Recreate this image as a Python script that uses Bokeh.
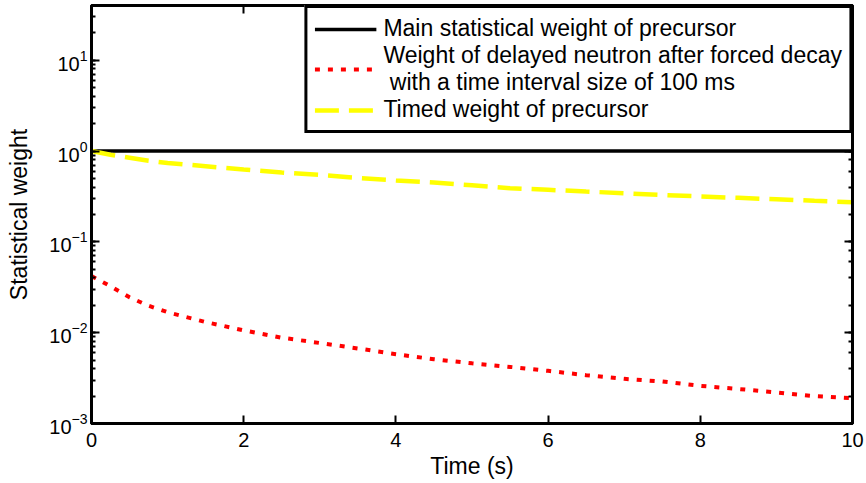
from bokeh.plotting import figure
from bokeh.models import Legend, LegendItem, LinearAxis, LogAxis, Range1d
from bokeh.embed import file_html
from bokeh.resources import INLINE

# ---- data ----
time = [0, 0.25, 0.5, 0.75, 1, 1.5, 2, 2.5, 3, 3.5, 4, 4.5, 5, 5.5, 6, 6.5,
        7, 7.5, 8, 8.5, 9, 9.5, 10]
main_weight = [1.0, 1.0, 1.0, 1.0, 1.0, 1.0, 1.0, 1.0, 1.0, 1.0, 1.0, 1.0,
               1.0, 1.0, 1.0, 1.0, 1.0, 1.0, 1.0, 1.0, 1.0, 1.0, 1.0]
delayed_weight = [0.042, 0.0325, 0.0245, 0.0198, 0.0168, 0.0131, 0.0106,
                  0.0088, 0.0077, 0.0067, 0.0058, 0.0051, 0.0046, 0.0042,
                  0.0038, 0.0034, 0.0031, 0.0029, 0.0026, 0.0024, 0.0022,
                  0.0020, 0.0019]
timed_weight = [1.0, 0.91, 0.845, 0.78, 0.74, 0.68, 0.625, 0.58, 0.545,
                0.505, 0.475, 0.45, 0.42, 0.39, 0.374, 0.358, 0.343, 0.328,
                0.316, 0.305, 0.294, 0.283, 0.273]

labels = ["Main statistical weight of precursor",
          "Weight of delayed neutron after forced decay\n with a time interval size of 100 ms",
          "Timed weight of precursor"]
x_label = "Time (s)"
y_label = "Statistical weight"

FONT = "Liberation Sans"

p = figure(width=866, height=483, y_axis_type="log",
           x_range=Range1d(0, 10), y_range=Range1d(1e-3, 40),
           output_backend="svg", toolbar_location=None,
           min_border_left=91, min_border_right=14,
           min_border_top=5, min_border_bottom=60)

p.grid.visible = False
p.outline_line_color = "black"
p.outline_line_alpha = 1
p.outline_line_width = 3
p.background_fill_color = "white"
p.border_fill_color = "white"

p.xaxis.axis_label = x_label
p.yaxis.axis_label = y_label
for ax in p.xaxis + p.yaxis:
    ax.axis_line_width = 3
    ax.major_tick_in = 8
    ax.major_tick_out = 0
    ax.minor_tick_in = 4
    ax.minor_tick_out = 0
    ax.major_tick_line_width = 2
    ax.minor_tick_line_width = 2
    ax.major_label_text_font = FONT
    ax.major_label_text_font_size = "20px"
    ax.major_label_text_color = "black"
    ax.axis_label_text_font = FONT
    ax.axis_label_text_font_size = "23px"
    ax.axis_label_text_font_style = "normal"
    ax.axis_label_text_color = "black"
p.xaxis.minor_tick_line_color = None
p.xaxis.major_label_standoff = 9
p.xaxis.axis_label_standoff = 3
p.yaxis.major_label_standoff = 4
p.yaxis.axis_label_standoff = 14

# box-style axes on top and right (ticks only)
top_ax = LinearAxis(axis_line_width=3,
                    major_tick_in=8, major_tick_out=0, major_tick_line_width=2,
                    minor_tick_line_color=None, major_label_standoff=0,
                    major_label_text_font_size="1px",
                    major_label_text_alpha=0)
p.add_layout(top_ax, "above")
right_ax = LogAxis(axis_line_width=3,
                   major_tick_in=8, major_tick_out=0, minor_tick_in=4,
                   minor_tick_out=0, major_tick_line_width=2,
                   minor_tick_line_width=2, major_label_standoff=0,
                   major_label_text_font_size="1px",
                   major_label_text_alpha=0)
p.add_layout(right_ax, "right")

r1 = p.line(time, main_weight, line_color="black", line_width=3.5)
r2 = p.line(time, delayed_weight, line_color="#FF0000", line_width=4,
            line_dash="5 8")
r3 = p.line(time, timed_weight, line_color="#FFFF00", line_width=4.5,
            line_dash="24 10")

legend = Legend(items=[LegendItem(label=labels[0], renderers=[r1]),
                       LegendItem(label=labels[1], renderers=[r2]),
                       LegendItem(label=labels[2], renderers=[r3])],
                location="top_right", margin=0, padding=7, spacing=0,
                glyph_width=62, glyph_height=20, label_standoff=7,
                label_height=25,
                border_line_color="black", border_line_width=3,
                border_line_alpha=1,
                background_fill_color="white", background_fill_alpha=1,
                label_text_font=FONT, label_text_font_size="23px",
                label_text_color="black")
p.add_layout(legend)

open("out.html", "w").write(file_html(p, INLINE))
